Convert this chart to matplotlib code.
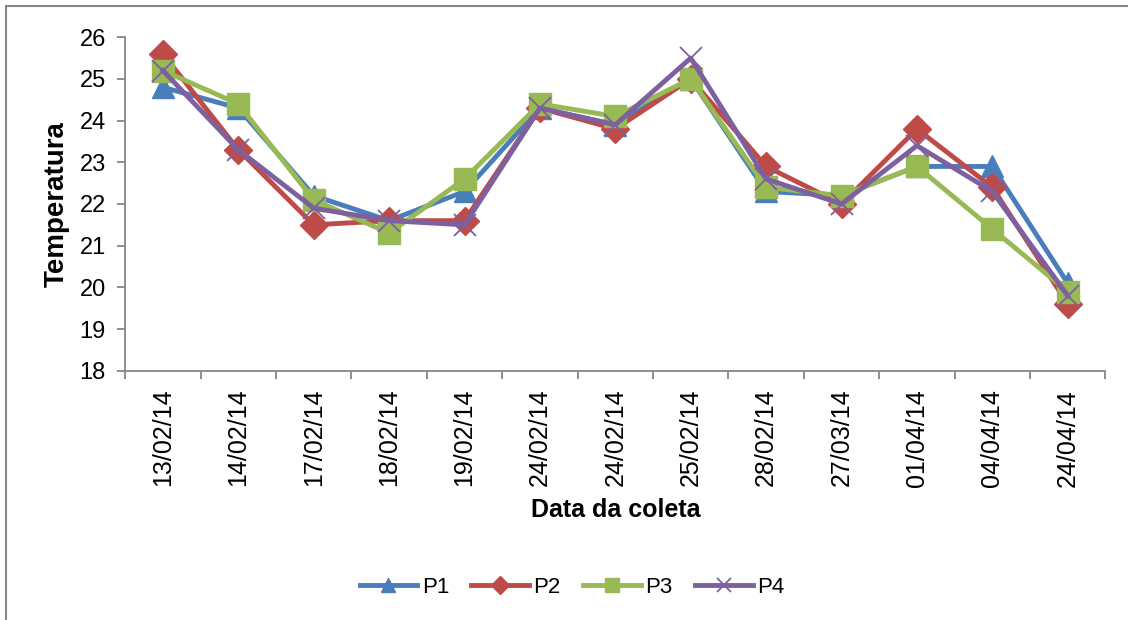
import matplotlib
matplotlib.use('Agg')
import matplotlib.pyplot as plt
from matplotlib.patches import Rectangle
import numpy as np

plt.rcParams['font.family'] = ['Liberation Sans', 'DejaVu Sans']

# data
datas = ['13/02/14', '14/02/14', '17/02/14', '18/02/14', '19/02/14', '24/02/14',
         '24/02/14', '25/02/14', '28/02/14', '27/03/14', '01/04/14', '04/04/14', '24/04/14']
p1 = [24.8, 24.3, 22.2, 21.6, 22.3, 24.3, 23.9, 25.0, 22.3, 22.2, 22.9, 22.9, 20.1]
p2 = [25.6, 23.3, 21.5, 21.6, 21.6, 24.3, 23.8, 25.0, 22.9, 22.0, 23.8, 22.4, 19.6]
p3 = [25.2, 24.4, 22.1, 21.3, 22.6, 24.4, 24.1, 25.0, 22.4, 22.2, 22.9, 21.4, 19.9]
p4 = [25.2, 23.3, 21.9, 21.6, 21.5, 24.3, 23.9, 25.5, 22.6, 22.0, 23.4, 22.3, 19.8]

series = [('P1', p1, '#4A7EBB', '^', 16),
          ('P2', p2, '#BE4B48', 'D', 14),
          ('P3', p3, '#98B954', 's', 16),
          ('P4', p4, '#7D60A0', 'x', 16)]

fig = plt.figure(figsize=(11.28, 6.2), dpi=100)
ax = fig.add_axes([0.111, 0.402, 0.869, 0.538])

x = np.arange(len(datas))
for name, vals, col, mk, ms in series:
    kw = dict(markeredgewidth=1.3) if mk == 'x' else dict(markeredgecolor=col)
    ax.plot(x, vals, color=col, lw=3.5, marker=mk, markersize=ms,
            markerfacecolor=col, label=name, **kw)

ax.set_xlim(-0.5, len(datas) - 0.5)
ax.set_ylim(18, 26)
ax.set_yticks(np.arange(18, 27, 1))
ax.set_xticks(x)
ax.set_xticklabels(datas, rotation=90)
ax.set_xticks(np.arange(-0.5, len(datas), 1), minor=True)
ax.tick_params(axis='x', which='major', length=0, pad=13, labelsize=18)
ax.tick_params(axis='x', which='minor', length=6, width=1.3, color='#868686')
ax.tick_params(axis='y', length=6, width=1.3, color='#868686', labelsize=17, pad=8)

for s in ['top', 'right']:
    ax.spines[s].set_visible(False)
for s in ['left', 'bottom']:
    ax.spines[s].set_color('#868686')
    ax.spines[s].set_linewidth(1.3)

ax.set_ylabel('Temperatura', fontsize=20, fontweight='bold', labelpad=7)
ax.set_xlabel('Data da coleta', fontsize=18, fontweight='bold', labelpad=8)

leg = fig.legend(loc='center', bbox_to_anchor=(0.507, 0.053), ncol=4, frameon=False,
                 fontsize=16, handlelength=2.6, columnspacing=1.0, handletextpad=0.2,
                 markerscale=0.65)

# thin border around the chart area
fig.patches.append(Rectangle((0.005, -0.1), 1.2, 1.09, transform=fig.transFigure,
                             fill=False, edgecolor='#868686', lw=1.5))

fig.savefig('out.png', dpi=100)
